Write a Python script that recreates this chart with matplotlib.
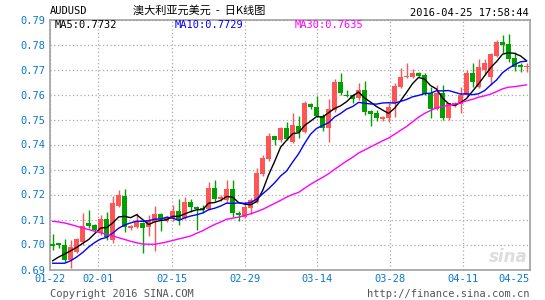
import numpy as np
import pandas as pd
import matplotlib
matplotlib.use("Agg")
import matplotlib.pyplot as plt

# daily candles AUDUSD, 80 sessions
opens = [0.7001, 0.7004, 0.6998, 0.6938, 0.6971, 0.7010, 0.7087, 0.7078, 0.7045, 0.7101,
         0.7018, 0.7154, 0.7195, 0.7065, 0.7071, 0.7085, 0.7069, 0.7091, 0.7121, 0.7095,
         0.7101, 0.7135, 0.7105, 0.7170, 0.7151, 0.7146, 0.7142, 0.7226, 0.7181, 0.7178,
         0.7222, 0.7127, 0.7111, 0.7148, 0.7171, 0.7282, 0.7342, 0.7434, 0.7418, 0.7465,
         0.7411, 0.7474, 0.7451, 0.7562, 0.7551, 0.7514, 0.7467, 0.7538, 0.7649, 0.7600,
         0.7598, 0.7585, 0.7618, 0.7535, 0.7525, 0.7501, 0.7505, 0.7565, 0.7631, 0.7669,
         0.7671, 0.7687, 0.7678, 0.7605, 0.7543, 0.7605, 0.7505, 0.7554, 0.7562, 0.7598,
         0.7687, 0.7631, 0.7699, 0.7669, 0.7754, 0.7810, 0.7802, 0.7745, 0.7717, 0.7712]
highs = [0.7042, 0.7007, 0.7022, 0.7018, 0.7025, 0.7127, 0.7138, 0.7082, 0.7118, 0.7129,
         0.7195, 0.7217, 0.7221, 0.7078, 0.7127, 0.7090, 0.7118, 0.7154, 0.7127, 0.7113,
         0.7158, 0.7183, 0.7191, 0.7183, 0.7154, 0.7157, 0.7251, 0.7258, 0.7198, 0.7258,
         0.7258, 0.7133, 0.7171, 0.7186, 0.7305, 0.7358, 0.7447, 0.7434, 0.7470, 0.7491,
         0.7527, 0.7514, 0.7575, 0.7565, 0.7594, 0.7521, 0.7581, 0.7661, 0.7685, 0.7618,
         0.7602, 0.7645, 0.7653, 0.7538, 0.7538, 0.7515, 0.7565, 0.7647, 0.7705, 0.7727,
         0.7701, 0.7692, 0.7685, 0.7631, 0.7638, 0.7638, 0.7568, 0.7570, 0.7631, 0.7698,
         0.7725, 0.7741, 0.7741, 0.7767, 0.7818, 0.7838, 0.7842, 0.7770, 0.7725, 0.7727]
lows = [0.6978, 0.6988, 0.6932, 0.6907, 0.6968, 0.6998, 0.7065, 0.7052, 0.7040, 0.7018,
        0.7005, 0.7150, 0.7051, 0.7060, 0.7068, 0.6965, 0.7033, 0.6975, 0.7054, 0.7092,
        0.7095, 0.7078, 0.7102, 0.7131, 0.7058, 0.7127, 0.7138, 0.7175, 0.7173, 0.7165,
        0.7111, 0.7094, 0.7105, 0.7121, 0.7165, 0.7275, 0.7335, 0.7398, 0.7412, 0.7418,
        0.7405, 0.7425, 0.7445, 0.7541, 0.7510, 0.7455, 0.7411, 0.7530, 0.7600, 0.7590,
        0.7567, 0.7580, 0.7518, 0.7474, 0.7495, 0.7495, 0.7491, 0.7509, 0.7625, 0.7665,
        0.7668, 0.7670, 0.7598, 0.7505, 0.7540, 0.7497, 0.7497, 0.7550, 0.7527, 0.7595,
        0.7631, 0.7628, 0.7678, 0.7638, 0.7750, 0.7765, 0.7731, 0.7695, 0.7691, 0.7691]
closes = [0.6993, 0.6999, 0.6940, 0.6989, 0.7022, 0.7074, 0.7075, 0.7058, 0.7101, 0.7031,
          0.7165, 0.7197, 0.7069, 0.7074, 0.7091, 0.7067, 0.7098, 0.7122, 0.7103, 0.7105,
          0.7135, 0.7098, 0.7170, 0.7149, 0.7143, 0.7138, 0.7227, 0.7182, 0.7191, 0.7222,
          0.7125, 0.7118, 0.7151, 0.7178, 0.7285, 0.7345, 0.7434, 0.7418, 0.7465, 0.7422,
          0.7478, 0.7451, 0.7565, 0.7551, 0.7514, 0.7465, 0.7541, 0.7649, 0.7605, 0.7596,
          0.7581, 0.7618, 0.7531, 0.7522, 0.7507, 0.7511, 0.7551, 0.7634, 0.7671, 0.7675,
          0.7687, 0.7674, 0.7602, 0.7541, 0.7605, 0.7505, 0.7565, 0.7565, 0.7598, 0.7687,
          0.7651, 0.7711, 0.7725, 0.7761, 0.7810, 0.7798, 0.7742, 0.7711, 0.7711, 0.7714]

# moving average values before a full window exists inside the chart
ma5_head = [0.6935, 0.6950, 0.6962, 0.6975]
ma10_head = [0.6925, 0.6925, 0.6925, 0.6935, 0.6950, 0.6968, 0.6990, 0.7008, 0.7022]
ma30_head = [0.7093, 0.7090, 0.7086, 0.7080, 0.7073, 0.7066, 0.7060, 0.7053, 0.7047, 0.7040,
             0.7034, 0.7027, 0.7020, 0.7013, 0.7007, 0.7002, 0.7001, 0.7001, 0.7005, 0.7010,
             0.7016, 0.7022, 0.7028, 0.7034, 0.7045, 0.7055, 0.7068, 0.7080, 0.7090]

date_labels = ["01-22", "02-01", "02-15", "02-29", "03-14", "03-28", "04-11", "04-25"]
y_ticks = [0.69, 0.70, 0.71, 0.72, 0.73, 0.74, 0.75, 0.76, 0.77, 0.78, 0.79]

RED = "#ff5555"
GREEN = "#00a000"
BLUE_TXT = "#0a78d2"
MONO = "DejaVu Sans Mono"


def moving_avg(vals, n, head):
    s = pd.Series(vals).rolling(n).mean().to_numpy()
    s[:len(head)] = head
    return s


o = np.array(opens)
h = np.array(highs)
l = np.array(lows)
c = np.array(closes)
x = np.arange(len(c))

fig = plt.figure(figsize=(5.45, 3.0), dpi=100)
ax = fig.add_axes([50 / 545, 30.5 / 300, 479.5 / 545, 250 / 300])

up = c >= o
col = np.where(up, RED, GREEN)
body_lo = np.minimum(o, c)
body_h = np.maximum(np.abs(c - o), 0.00005)

ax.vlines(x, l, h, colors=col, linewidth=1, zorder=3)
ax.bar(x, body_h, bottom=body_lo, width=0.8, color=col, linewidth=0, zorder=4)

ax.plot(x, moving_avg(closes, 5, ma5_head), color="black", lw=1, zorder=5)
ax.plot(x, moving_avg(closes, 10, ma10_head), color="#0000ff", lw=1, zorder=5)
ax.plot(x, moving_avg(closes, 30, ma30_head), color="#ff00ff", lw=1, zorder=5)

ax.set_xlim(-0.45, 79.5)
ax.set_ylim(0.69, 0.79)

# vertical grid every ~12 sessions, end labels sit on the frame
xt = [-0.45, 7.62, 19.83, 32.0, 44.07, 56.17, 68.33, 79.5]
ax.set_xticks(xt)
ax.set_xticklabels(date_labels)
ax.set_yticks(y_ticks)
ax.set_yticklabels(["%.2f" % v for v in y_ticks])
ax.grid(True, color="#aaaaaa", linestyle=(0, (1, 2)), linewidth=0.9)
ax.set_axisbelow(True)
ax.tick_params(length=0, labelcolor=BLUE_TXT, labelsize=7.5, pad=3)
for t in ax.get_xticklabels() + ax.get_yticklabels():
    t.set_fontfamily(MONO)
ax.get_xticklabels()[-1].set_horizontalalignment("right")
for s in ax.spines.values():
    s.set_color("#a0a0a0")
    s.set_linewidth(1.2)

# header and footer texts
fig.text(50 / 545, 1 - 11.5 / 300, "AUDUSD", family=MONO, fontsize=7.5, va="center")
fig.text(199 / 545, 1 - 10 / 300, "澳大利亚元美元  -  日K线图",
         family=["Noto Sans CJK SC", "DejaVu Sans"], fontsize=8, ha="center", va="center")
fig.text(529 / 545, 1 - 12.5 / 300, "2016-04-25 17:58:44", family=MONO, fontsize=7.5,
         ha="right", va="center")
fig.text(54.5 / 545, 1 - 25 / 300, "MA5:0.7732", family=MONO, fontsize=7.5, va="center")
fig.text(174.5 / 545, 1 - 25 / 300, "MA10:0.7729", family=MONO, fontsize=7.5,
         color="#0000ff", va="center")
fig.text(294.5 / 545, 1 - 25 / 300, "MA30:0.7635", family=MONO, fontsize=7.5,
         color="#ff00ff", va="center")
fig.text(50 / 545, 1 - 294 / 300, "Copyright 2016 SINA.COM", family=MONO, fontsize=7.5,
         color="#555555", va="center")
fig.text(529 / 545, 1 - 294 / 300, "http://finance.sina.com.cn", family=MONO, fontsize=7.5,
         color="#555555", ha="right", va="center")
ax.text(0.995, 0.012, "sina", transform=ax.transAxes, ha="right", va="bottom",
        fontsize=12, fontweight="bold", fontstyle="italic", color="#dddddd", zorder=1)

fig.savefig("out.png", dpi=100)
